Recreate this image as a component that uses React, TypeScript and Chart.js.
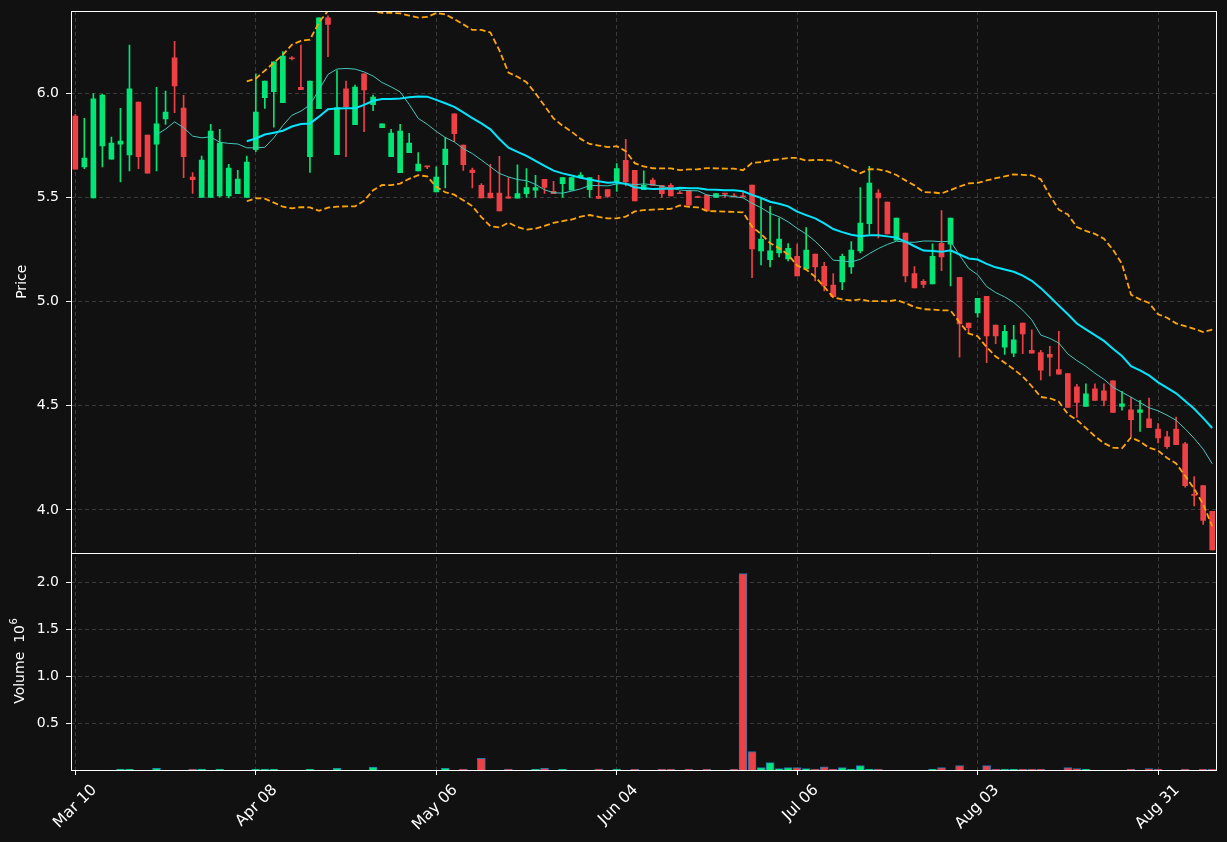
import React, { useEffect, useRef } from 'react';
import { Chart, registerables } from 'chart.js';

Chart.register(...registerables);

// ---------- data ----------
const tickIndex = [0, 20, 40, 60, 80, 100, 120];
const tickLabels = ['Mar 10', 'Apr 08', 'May 06', 'Jun 04', 'Jul 06', 'Aug 03', 'Aug 31'];
const priceTicks = [4.0, 4.5, 5.0, 5.5, 6.0];
const volumeTicks = [0.5, 1.0, 1.5, 2.0];

const opens = [
  5.891, 5.647, 5.498, 5.748, 5.684, 5.756, 5.704, 5.958, 5.800, 5.756,
  5.877, 6.170, 5.929, 5.598, 5.500, 5.500, 5.508, 5.508, 5.518, 5.500,
  5.729, 5.979, 6.008, 5.955, 6.170, 6.029, 5.696, 5.926, 6.362, 5.705,
  6.021, 5.849, 6.093, 5.946, 5.835, 5.696, 5.619, 5.715, 5.628, 5.651,
  5.527, 5.657, 5.901, 5.752, 5.631, 5.558, 5.521, 5.521, 5.503, 5.497,
  5.518, 5.535, 5.587, 5.529, 5.566, 5.535, 5.596, 5.537, 5.506, 5.538,
  5.575, 5.678, 5.630, 5.537, 5.583, 5.558, 5.558, 5.522, 5.532, 5.503,
  5.511, 5.500, 5.519, 5.506, 5.506, 5.559, 5.244, 5.202, 5.234, 5.205,
  5.218, 5.157, 5.228, 5.170, 5.079, 5.095, 5.167, 5.244, 5.374, 5.521,
  5.478, 5.295, 5.329, 5.135, 5.097, 5.085, 5.280, 5.276, 5.117, 4.897,
  4.946, 5.026, 4.888, 4.782, 4.753, 4.897, 4.766, 4.756, 4.747, 4.674,
  4.655, 4.591, 4.497, 4.582, 4.572, 4.620, 4.497, 4.481, 4.468, 4.437,
  4.388, 4.351, 4.388, 4.317, 4.073, 4.117, 3.994,
];
const highs = [
  5.899, 5.880, 5.999, 5.995, 5.790, 5.928, 6.231, 5.958, 5.800, 6.029,
  6.011, 6.250, 5.990, 5.620, 5.699, 5.851, 5.827, 5.659, 5.630, 5.699,
  6.093, 6.059, 6.151, 6.200, 6.176, 6.231, 6.059, 6.362, 6.372, 6.109,
  6.059, 6.040, 6.093, 5.992, 5.853, 5.827, 5.851, 5.808, 5.716, 5.651,
  5.647, 5.787, 5.901, 5.752, 5.641, 5.567, 5.659, 5.697, 5.596, 5.657,
  5.639, 5.606, 5.587, 5.577, 5.596, 5.596, 5.620, 5.596, 5.606, 5.538,
  5.663, 5.779, 5.630, 5.628, 5.593, 5.558, 5.567, 5.529, 5.532, 5.507,
  5.511, 5.519, 5.519, 5.519, 5.526, 5.559, 5.495, 5.458, 5.401, 5.279,
  5.276, 5.356, 5.228, 5.189, 5.135, 5.228, 5.288, 5.548, 5.649, 5.538,
  5.478, 5.401, 5.329, 5.168, 5.106, 5.277, 5.437, 5.401, 5.117, 4.897,
  5.016, 5.026, 4.888, 4.886, 4.886, 4.897, 4.865, 4.766, 4.785, 4.857,
  4.655, 4.603, 4.606, 4.606, 4.606, 4.620, 4.569, 4.542, 4.526, 4.537,
  4.415, 4.377, 4.446, 4.325, 4.160, 4.117, 3.994,
];
const lows = [
  5.636, 5.638, 5.498, 5.647, 5.684, 5.575, 5.628, 5.638, 5.617, 5.628,
  5.851, 5.907, 5.595, 5.519, 5.500, 5.500, 5.503, 5.498, 5.518, 5.500,
  5.720, 5.928, 5.837, 5.955, 6.160, 6.018, 5.620, 5.926, 6.176, 5.705,
  5.696, 5.849, 5.816, 5.917, 5.835, 5.696, 5.619, 5.715, 5.628, 5.638,
  5.527, 5.546, 5.768, 5.630, 5.546, 5.498, 5.498, 5.436, 5.497, 5.497,
  5.500, 5.500, 5.519, 5.518, 5.500, 5.535, 5.596, 5.500, 5.495, 5.500,
  5.529, 5.556, 5.484, 5.537, 5.558, 5.500, 5.508, 5.518, 5.463, 5.499,
  5.436, 5.500, 5.500, 5.503, 5.503, 5.115, 5.176, 5.167, 5.215, 5.196,
  5.124, 5.157, 5.099, 5.052, 5.024, 5.058, 5.135, 5.234, 5.325, 5.306,
  5.325, 5.295, 5.095, 5.066, 5.067, 5.085, 5.149, 5.075, 4.734, 4.856,
  4.926, 4.707, 4.798, 4.747, 4.736, 4.750, 4.753, 4.624, 4.643, 4.652,
  4.492, 4.444, 4.497, 4.526, 4.500, 4.468, 4.479, 4.353, 4.377, 4.395,
  4.322, 4.296, 4.314, 4.109, 4.019, 3.931, 3.808,
];
const closes = [
  5.636, 5.689, 5.973, 5.992, 5.761, 5.771, 6.021, 5.696, 5.617, 5.853,
  5.910, 6.035, 5.696, 5.585, 5.679, 5.819, 5.761, 5.641, 5.588, 5.670,
  5.910, 6.059, 6.151, 6.179, 6.166, 6.018, 6.059, 6.362, 6.330, 5.931,
  5.936, 6.030, 6.016, 5.982, 5.853, 5.809, 5.819, 5.761, 5.660, 5.647,
  5.598, 5.732, 5.806, 5.657, 5.619, 5.498, 5.498, 5.436, 5.497, 5.519,
  5.548, 5.548, 5.548, 5.518, 5.596, 5.596, 5.607, 5.596, 5.495, 5.505,
  5.639, 5.575, 5.484, 5.558, 5.558, 5.518, 5.508, 5.518, 5.463, 5.500,
  5.436, 5.519, 5.516, 5.503, 5.503, 5.253, 5.300, 5.244, 5.300, 5.256,
  5.124, 5.247, 5.167, 5.076, 5.024, 5.218, 5.247, 5.377, 5.569, 5.498,
  5.325, 5.401, 5.124, 5.066, 5.083, 5.218, 5.215, 5.401, 4.893, 4.875,
  5.016, 4.835, 4.835, 4.857, 4.817, 4.845, 4.753, 4.671, 4.734, 4.652,
  4.492, 4.516, 4.558, 4.526, 4.526, 4.468, 4.510, 4.434, 4.481, 4.395,
  4.346, 4.304, 4.314, 4.117, 4.070, 3.950, 3.808,
];
// volume in millions of shares
const volumes = [
  0, 0, 0, 0, 0, 0.01, 0.01, 0, 0, 0.018,
  0, 0, 0, 0.01, 0.01, 0, 0.01, 0, 0, 0,
  0.01, 0.01, 0.01, 0, 0, 0, 0.01, 0, 0, 0.018,
  0, 0, 0, 0.03, 0, 0, 0, 0, 0, 0,
  0, 0.018, 0, 0.01, 0, 0.124, 0, 0, 0.01, 0,
  0, 0.01, 0.018, 0, 0.01, 0, 0, 0, 0.01, 0,
  0.01, 0, 0.01, 0, 0, 0.01, 0.01, 0, 0.01, 0,
  0.01, 0, 0, 0.01, 2.089, 0.195, 0.025, 0.078, 0.014, 0.025,
  0.025, 0.014, 0.01, 0.035, 0.01, 0.025, 0.01, 0.046, 0.01, 0.01,
  0, 0, 0, 0, 0, 0.01, 0.025, 0, 0.046, 0,
  0, 0.046, 0.01, 0.01, 0.01, 0.01, 0.01, 0.01, 0, 0,
  0.025, 0.014, 0.01, 0, 0, 0, 0, 0.01, 0, 0.014,
  0.01, 0, 0, 0.01, 0, 0.01, 0.01,
];
const volumeTitle = 'Volume  10';
const volumeExponent = '6';

// ---------- styling ----------
const BG = '#111111';
const UP = '#00e676';
const DOWN = '#ee4146';
const EDGE = '#1f77b4';
const GRID = '#3a3a3a';
const TEXT = '#ffffff';
const FONT = 'DejaVu Sans';

function rollingMean(v: number[], n: number): (number | null)[] {
  return v.map((_, i) => {
    if (i < n - 1) return null;
    let s = 0;
    for (let k = i - n + 1; k <= i; k++) s += v[k];
    return s / n;
  });
}
function rollingStd(v: number[], n: number): (number | null)[] {
  const m = rollingMean(v, n);
  return v.map((_, i) => {
    const mu = m[i];
    if (mu === null) return null;
    let s = 0;
    for (let k = i - n + 1; k <= i; k++) s += (v[k] - mu) * (v[k] - mu);
    return Math.sqrt(s / n);
  });
}

const framePlugin = {
  id: 'frame',
  afterDatasetsDraw(chart: any) {
    const { ctx, chartArea } = chart;
    const py = chart.scales.y;
    const vy = chart.scales.yv;
    ctx.save();
    ctx.strokeStyle = '#ffffff';
    ctx.lineWidth = 1;
    ctx.setLineDash([]);
    const l = Math.round(chartArea.left) + 0.5;
    const r = Math.round(chartArea.right) + 0.5;
    const t = Math.round(chartArea.top) + 0.5;
    const b = Math.round(chartArea.bottom) + 0.5;
    ctx.strokeRect(l, t, r - l, b - t);
    const sep = Math.round(py.bottom) + 0.5;
    ctx.beginPath();
    ctx.moveTo(l, sep);
    ctx.lineTo(r, sep);
    ctx.stroke();

    // volume axis title with a raised exponent
    ctx.fillStyle = TEXT;
    ctx.translate(20, (vy.top + vy.bottom) / 2);
    ctx.rotate(-Math.PI / 2);
    ctx.textBaseline = 'middle';
    ctx.textAlign = 'left';
    ctx.font = `14px "${FONT}"`;
    const wMain = ctx.measureText(volumeTitle).width;
    ctx.font = `10px "${FONT}"`;
    const wExp = ctx.measureText(volumeExponent).width;
    const start = -(wMain + wExp) / 2;
    ctx.font = `14px "${FONT}"`;
    ctx.fillText(volumeTitle, start, 0);
    ctx.font = `10px "${FONT}"`;
    ctx.fillText(volumeExponent, start + wMain + 0.5, -6);
    ctx.restore();
  },
};

const gridOpts = {
  color: GRID, lineWidth: 1, drawTicks: true, tickLength: 5,
  tickColor: '#ffffff', tickWidth: 1, tickBorderDash: [], offset: false,
};

const fitY = (s: any) => {
  s.width = 71;
  s.paddingTop = 0;
  s.paddingBottom = 0;
};

export default function App() {
  const ref = useRef<HTMLCanvasElement | null>(null);

  useEffect(() => {
    if (!ref.current) return;
    const n = closes.length;
    const idx = closes.map((_, i) => i);
    const sma20 = rollingMean(closes, 20);
    const sma10 = rollingMean(closes, 10);
    const sd20 = rollingStd(closes, 20);
    const upper = sma20.map((m, i) => (m === null ? null : m + 2 * (sd20[i] as number)));
    const lower = sma20.map((m, i) => (m === null ? null : m - 2 * (sd20[i] as number)));
    const candleColor = idx.map((i) => (closes[i] >= opens[i] ? UP : DOWN));

    const pts = (arr: (number | null)[]) => arr.map((y, i) => ({ x: i, y }));
    const lineBase = { type: 'line', yAxisID: 'y', xAxisID: 'x', pointRadius: 0, tension: 0, order: 0, clip: 0 };

    const chart = new Chart(ref.current, {
      type: 'bar',
      data: {
        datasets: [
          { ...lineBase, label: 'BB upper', data: pts(upper), borderColor: '#ffa500', borderWidth: 1.8, borderDash: [6, 3] },
          { ...lineBase, label: 'BB lower', data: pts(lower), borderColor: '#ffa500', borderWidth: 1.8, borderDash: [6, 3] },
          { ...lineBase, label: 'SMA20', data: pts(sma20), borderColor: '#00e5ff', borderWidth: 2 },
          { ...lineBase, label: 'SMA10', data: pts(sma10), borderColor: '#3fc9bd', borderWidth: 1 },
          {
            type: 'bar', label: 'body', data: idx.map((i) => ({ x: i, y: [opens[i], closes[i]] })),
            yAxisID: 'y', xAxisID: 'x', backgroundColor: candleColor, borderWidth: 0,
            barThickness: 5, minBarLength: 1, grouped: false, order: 2, clip: 0,
          },
          {
            type: 'bar', label: 'wick', data: idx.map((i) => ({ x: i, y: [lows[i], highs[i]] })),
            yAxisID: 'y', xAxisID: 'x', backgroundColor: candleColor, borderWidth: 0,
            barThickness: 1, minBarLength: 1, grouped: false, order: 3, clip: 0,
          },
          {
            type: 'bar', label: 'volume', data: idx.map((i) => ({ x: i, y: volumes[i] })),
            yAxisID: 'yv', xAxisID: 'x', backgroundColor: candleColor, borderColor: EDGE, borderWidth: 1,
            barThickness: 8, grouped: false, order: 4,
          },
        ] as any,
      },
      options: {
        responsive: false,
        animation: false,
        devicePixelRatio: 1,
        layout: { padding: { left: 0, right: 11, top: 11, bottom: 0 } },
        plugins: { legend: { display: false }, tooltip: { enabled: false } },
        scales: {
          x: {
            type: 'linear',
            position: 'bottom',
            offset: false,
            min: -0.48,
            max: n - 1 + 0.42,
            afterBuildTicks: (s: any) => { s.ticks = tickIndex.map((value) => ({ value })); },
            afterFit: (s: any) => { s.height = 72; s.paddingLeft = 0; s.paddingRight = 0; },
            ticks: {
              color: TEXT,
              font: { family: FONT, size: 15.5 },
              autoSkip: false,
              maxRotation: 45,
              minRotation: 45,
              padding: 6,
              labelOffset: 19,
              callback: (v: any) => {
                const k = tickIndex.indexOf(Number(v));
                return k >= 0 ? tickLabels[k] : '';
              },
            },
            grid: gridOpts,
            border: { display: false, dash: [4, 3] },
          },
          yv: {
            type: 'linear',
            position: 'left',
            stack: 'panels',
            stackWeight: 217.5,
            min: 0,
            max: 2.314,
            afterBuildTicks: (s: any) => { s.ticks = volumeTicks.map((value) => ({ value })); },
            afterFit: fitY,
            ticks: {
              color: TEXT, font: { family: FONT, size: 14 }, padding: 7,
              callback: (v: any) => Number(v).toFixed(1),
            },
            grid: gridOpts,
            border: { display: false, dash: [4, 3] },
            title: { display: false },
          },
          y: {
            type: 'linear',
            position: 'left',
            stack: 'panels',
            stackWeight: 541.5,
            min: 3.796,
            max: 6.395,
            afterBuildTicks: (s: any) => { s.ticks = priceTicks.map((value) => ({ value })); },
            afterFit: fitY,
            ticks: {
              color: TEXT, font: { family: FONT, size: 14 }, padding: 7,
              callback: (v: any) => Number(v).toFixed(1),
            },
            grid: gridOpts,
            border: { display: false, dash: [4, 3] },
            title: {
              display: true, text: 'Price', color: TEXT,
              font: { family: FONT, size: 14 }, padding: { top: 13.6, bottom: 0 },
            },
          },
        },
      } as any,
      plugins: [framePlugin],
    });
    return () => chart.destroy();
  }, []);

  return (
    <div style={{ position: 'absolute', left: 0, top: 0, width: 1227, height: 842, background: BG }}>
      <canvas ref={ref} width={1227} height={842} style={{ display: 'block', width: 1227, height: 842 }} />
    </div>
  );
}
